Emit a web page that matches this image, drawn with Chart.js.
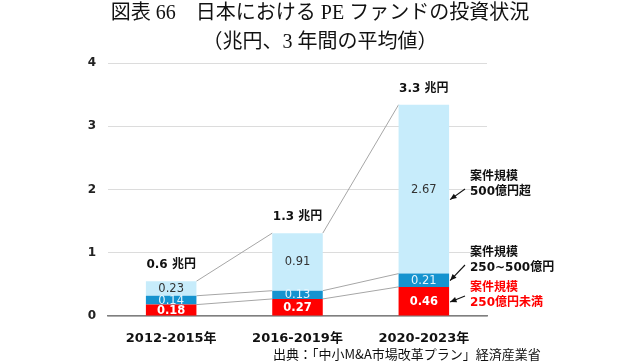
<!DOCTYPE html>
<html>
<head>
<meta charset="utf-8">
<script src="https://cdn.jsdelivr.net/npm/chart.js@4/dist/chart.umd.min.js"></script>
<style>
body { margin: 0; background: #fff; }
</style>
</head>
<body>
<canvas id="myChart" width="640" height="362"></canvas>
<script>
// chart data
const periods = ['2012-2015年', '2016-2019年', '2020-2023年'];
const under250 = [0.18, 0.27, 0.46];      // 250億円未満
const mid250to500 = [0.14, 0.13, 0.21];   // 250~500億円
const over500 = [0.23, 0.91, 2.67];       // 500億円超
const totalLabels = ['0.6 兆円', '1.3 兆円', '3.3 兆円'];
const yMax = 4;

const titleLines = ['図表 66　日本における PE ファンドの投資状況', '（兆円、3 年間の平均値）'];
const sourceNote = '出典：「中小M&A市場改革プラン」経済産業省';
const seriesNames = [['案件規模', '250億円未満'], ['案件規模', '250~500億円'], ['案件規模', '500億円超']];
const seriesColors = ['#ff0000', '#1593cf', '#c7ecfb'];
const valueColors = ['#ffffff', '#e4f5fd', '#333333'];
// where on the last bar each arrow points (value on y axis)
const arrowTargets = [0.22, 0.56, 1.84];

const jpFont = "'DejaVu Sans', 'Noto Sans CJK JP', sans-serif";

// extra drawing: title, connector lines, labels, arrows, source
const extras = {
    id: 'extras',
    beforeDatasetsDraw(chart) {
        const ctx = chart.ctx;
        const metas = [0, 1, 2].map(i => chart.getDatasetMeta(i));
        ctx.save();
        ctx.strokeStyle = '#a6a6a6';
        ctx.lineWidth = 1;
        // connector lines between tops of each stack level
        for (let d = 0; d < 3; d++) {
            for (let i = 0; i < periods.length - 1; i++) {
                const a = metas[d].data[i], b = metas[d].data[i + 1];
                ctx.beginPath();
                ctx.moveTo(a.x + a.width / 2, a.y);
                ctx.lineTo(b.x - b.width / 2, b.y);
                ctx.stroke();
            }
        }
        ctx.restore();
    },
    afterDatasetsDraw(chart) {
        const ctx = chart.ctx;
        const yScale = chart.scales.y;
        const metas = [0, 1, 2].map(i => chart.getDatasetMeta(i));
        ctx.save();
        ctx.textAlign = 'center';
        ctx.textBaseline = 'middle';
        // values inside segments
        const vals = [under250, mid250to500, over500];
        for (let d = 0; d < 3; d++) {
            metas[d].data.forEach((bar, i) => {
                ctx.font = (d === 0 ? 'bold ' : '') + '11.5px ' + jpFont;
                ctx.fillStyle = valueColors[d];
                ctx.fillText(vals[d][i].toFixed(2), bar.x, (bar.y + bar.base) / 2 + 0.5);
            });
        }
        // totals above bars
        ctx.font = 'bold 12px ' + jpFont;
        ctx.fillStyle = '#111';
        metas[2].data.forEach((bar, i) => {
            ctx.fillText(totalLabels[i], bar.x, bar.y - 16);
        });

        // series notes with arrows next to last bar
        const last = periods.length - 1;
        const barRight = metas[2].data[last].x + metas[2].data[last].width / 2;
        const textTops = [288, 253, 177];
        ctx.textAlign = 'left';
        for (let d = 0; d < 3; d++) {
            ctx.font = 'bold 12px ' + jpFont;
            ctx.fillStyle = d === 0 ? '#ff0000' : '#111';
            ctx.fillText(seriesNames[d][0], 470, textTops[d]);
            ctx.fillText(seriesNames[d][1], 470, textTops[d] + 15);
            const hx = barRight + 1, hy = yScale.getPixelForValue(arrowTargets[d]);
            const tx = 465, ty = textTops[d] + (d === 0 ? 8 : 12);
            const ang = Math.atan2(hy - ty, hx - tx);
            ctx.strokeStyle = '#111';
            ctx.fillStyle = '#111';
            ctx.lineWidth = 1.1;
            ctx.beginPath();
            ctx.moveTo(tx, ty);
            ctx.lineTo(hx, hy);
            ctx.stroke();
            ctx.beginPath();
            ctx.moveTo(hx, hy);
            ctx.lineTo(hx - 7 * Math.cos(ang - 0.4), hy - 7 * Math.sin(ang - 0.4));
            ctx.lineTo(hx - 7 * Math.cos(ang + 0.4), hy - 7 * Math.sin(ang + 0.4));
            ctx.closePath();
            ctx.fill();
        }

        // title
        ctx.textAlign = 'center';
        ctx.fillStyle = '#111';
        ctx.font = "20px 'Liberation Serif', 'Noto Sans CJK JP', serif";
        ctx.fillText(titleLines[0], 320, 14);
        ctx.fillText(titleLines[1], 320, 43);

        // source
        ctx.textAlign = 'left';
        ctx.font = "13px 'Noto Sans CJK JP', sans-serif";
        ctx.fillText(sourceNote, 273, 354);
        ctx.restore();
    }
};

const config = {
    type: 'bar',
    data: {
        labels: periods,
        datasets: [
            { label: '250億円未満', data: under250, backgroundColor: seriesColors[0] },
            { label: '250~500億円', data: mid250to500, backgroundColor: seriesColors[1] },
            { label: '500億円超', data: over500, backgroundColor: seriesColors[2] }
        ]
    },
    options: {
        responsive: false,
        animation: false,
        layout: { padding: { left: 68, right: 153, top: 63, bottom: 0 } },
        datasets: { bar: { categoryPercentage: 0.8, barPercentage: 0.5 } },
        plugins: { legend: { display: false }, tooltip: { enabled: false }, title: { display: false } },
        scales: {
            x: {
                stacked: true,
                grid: { display: false },
                border: { display: true, color: '#7f7f7f', width: 1.5 },
                ticks: { color: '#111', font: { family: jpFont, size: 13, weight: 'bold' }, padding: 7 },
                afterFit(scale) { scale.height = 46; }
            },
            y: {
                stacked: true,
                min: 0,
                max: yMax,
                grid: { color: '#dcdcdc', drawTicks: false },
                border: { display: false },
                ticks: { stepSize: 1, color: '#222', font: { family: jpFont, size: 12, weight: 'bold' }, padding: 12 },
                afterFit(scale) { scale.width = 40; }
            }
        }
    },
    plugins: [extras]
};

const myChart = new Chart(document.getElementById('myChart'), config);
</script>
</body>
</html>
